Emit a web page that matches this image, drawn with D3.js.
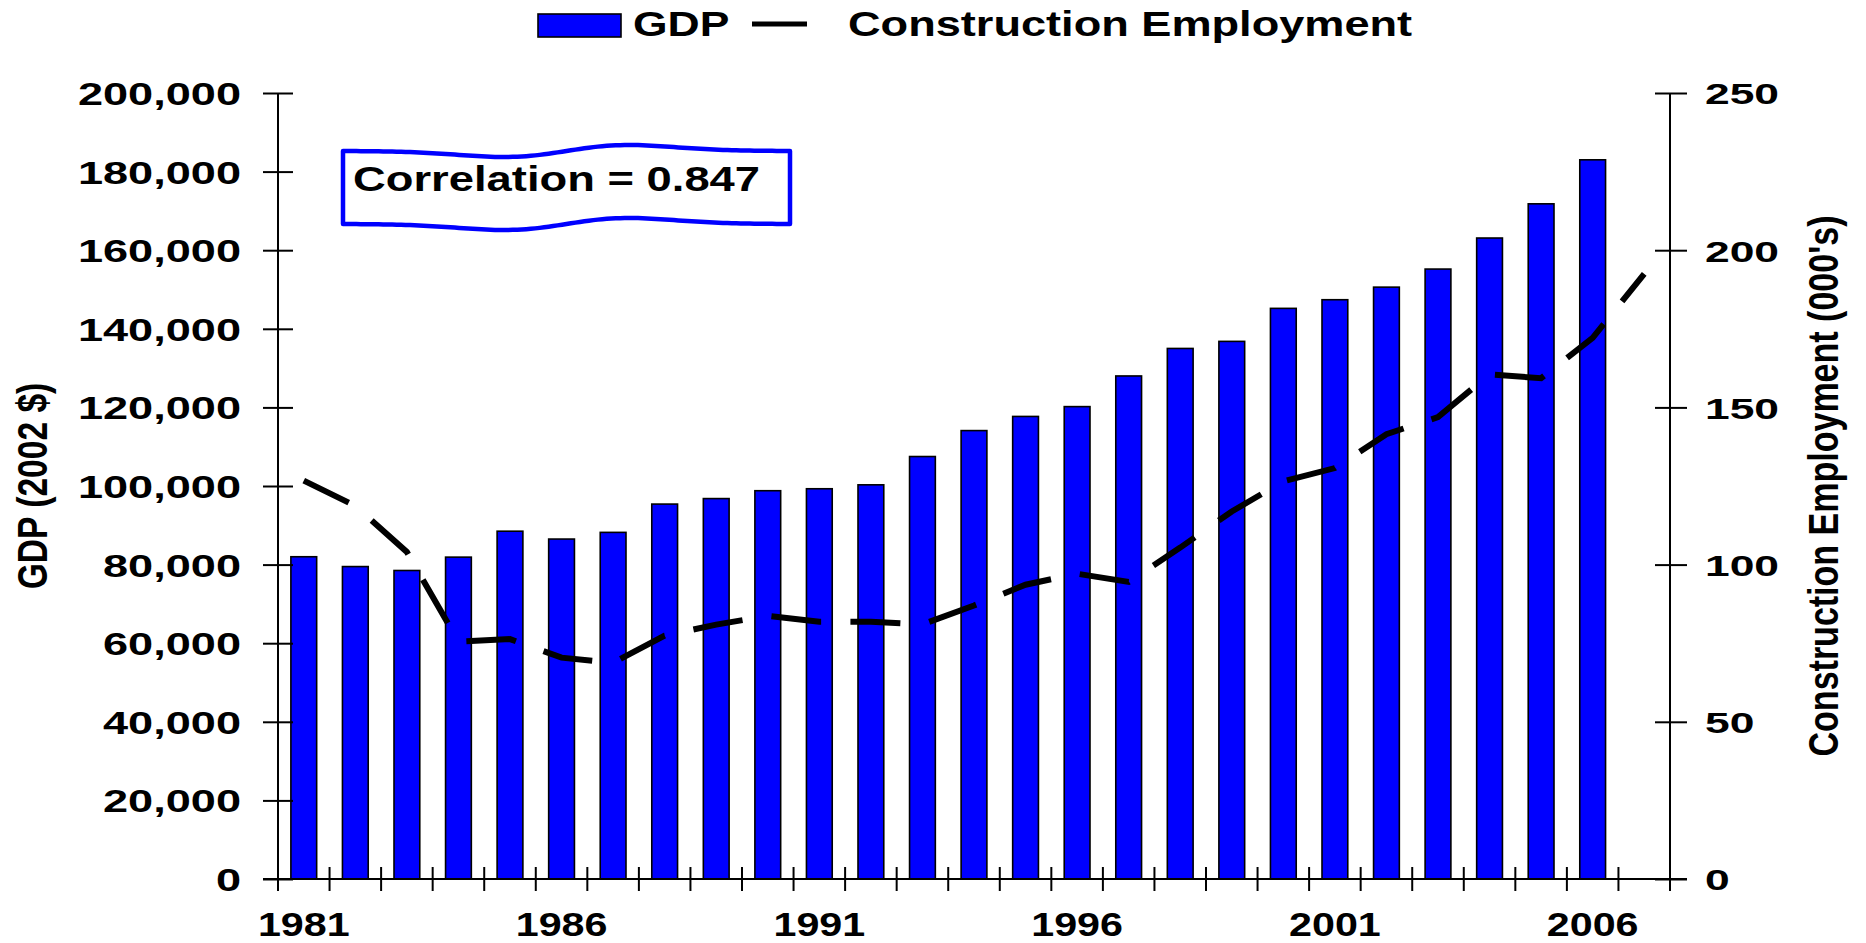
<!DOCTYPE html>
<html><head><meta charset="utf-8">
<script src="https://cdn.jsdelivr.net/npm/d3@7"></script>
<style>
body{margin:0;background:#fff}
svg{display:block;background:#fff}
text{font-family:'Liberation Sans',Arial,Helvetica,sans-serif;font-weight:bold;fill:#000}
</style>
</head><body>
<svg id="c" width="1866" height="943"></svg>
<script>
// ---------- data ----------
const years = [1981,1982,1983,1984,1985,1986,1987,1988,1989,1990,1991,1992,1993,1994,1995,1996,1997,1998,1999,2000,2001,2002,2003,2004,2005,2006,2007];
const gdpYears = [1981,1982,1983,1984,1985,1986,1987,1988,1989,1990,1991,1992,1993,1994,1995,1996,1997,1998,1999,2000,2001,2002,2003,2004,2005,2006];
const gdp = [82000,79500,78500,81900,88500,86500,88200,95400,96800,98800,99300,100300,107500,114100,117700,120200,128000,135000,136800,145200,147400,150600,155200,163100,171800,183000];
const employment = [126.7,118.7,104.0,75.5,76.3,70.4,68.8,77.4,80.9,83.7,81.8,81.8,81.0,87.0,93.6,97.1,94.5,105.4,116.9,126.5,130.7,141.5,146.9,160.5,159.3,172.1,192.5];
const gdpTicks = [0,20000,40000,60000,80000,100000,120000,140000,160000,180000,200000];
const empTicks = [0,50,100,150,200,250];
const labelYears = [1981,1986,1991,1996,2001,2006];
const legendLabels = ["GDP","Construction Employment"];
const leftTitle = "GDP (2002 $)";
const rightTitle = "Construction Employment (000's)";
const noteText = "Correlation = 0.847";

// ---------- layout ----------
const svg = d3.select('#c');
const plot = {left:278, right:1670, top:93, bottom:879};
const BLUE = '#0000FF';

const x = d3.scaleBand().domain(years).range([plot.left, plot.right]).paddingInner(0.5).paddingOuter(0.25);
const yL = d3.scaleLinear().domain([0,200000]).range([plot.bottom, plot.top]);
const yR = d3.scaleLinear().domain([0,250]).range([plot.bottom, plot.top]);
const step = x.step();

// bars
svg.append('g').selectAll('rect').data(gdp).join('rect')
  .attr('x', (d,i) => x(gdpYears[i]))
  .attr('y', d => yL(d))
  .attr('width', x.bandwidth())
  .attr('height', d => yL(0) - yL(d))
  .attr('fill', BLUE).attr('stroke', '#000').attr('stroke-width', 1.6);

// employment line
const empData = years.map((y,i) => ({year:y, v:employment[i]}));
svg.append('path').datum(empData)
  .attr('d', d3.line().x(d => x(d.year) + x.bandwidth()/2).y(d => yR(d.v)))
  .attr('fill','none').attr('stroke','#000').attr('stroke-width',6)
  .attr('stroke-dasharray','50,29.3').attr('stroke-linejoin','miter');

// left axis
const gL = svg.append('g').attr('transform', `translate(${plot.left},0)`)
  .call(d3.axisLeft(yL).tickValues(gdpTicks).tickSize(15).tickSizeOuter(0).tickFormat(d3.format(',')));
gL.select('.domain').remove();
gL.selectAll('.tick line').attr('x1', 15).attr('stroke','#000').attr('stroke-width',2);
gL.selectAll('.tick text').attr('x', null).attr('dy', '0.36em').attr('text-anchor','end')
  .attr('transform','translate(-37,0) scale(1.41,1)').style('font-size','32px');
svg.append('line').attr('x1',plot.left).attr('x2',plot.left).attr('y1',yL(200000)).attr('y2',plot.bottom+12)
  .attr('stroke','#000').attr('stroke-width',2);

// right axis
const gR = svg.append('g').attr('transform', `translate(${plot.right},0)`)
  .call(d3.axisRight(yR).tickValues(empTicks).tickSize(17).tickSizeOuter(0));
gR.select('.domain').remove();
gR.selectAll('.tick line').attr('x1', -15).attr('stroke','#000').attr('stroke-width',2);
gR.selectAll('.tick text').attr('x', null).attr('dy', '0.36em').attr('text-anchor','start')
  .attr('transform','translate(35,0) scale(1.48,1)').style('font-size','30px');
svg.append('line').attr('x1',plot.right).attr('x2',plot.right).attr('y1',yR(250)).attr('y2',plot.bottom+12)
  .attr('stroke','#000').attr('stroke-width',2);

// x axis line and boundary ticks
svg.append('line').attr('x1',plot.left-15).attr('x2',plot.right+17).attr('y1',plot.bottom).attr('y2',plot.bottom)
  .attr('stroke','#000').attr('stroke-width',2);
const bounds = years.map(y => x(y) - step*x.paddingInner()/2).concat([x(years[years.length-1]) + x.bandwidth() + step*x.paddingInner()/2]);
svg.append('g').selectAll('line').data(bounds).join('line')
  .attr('x1', d => d).attr('x2', d => d).attr('y1', plot.bottom-12).attr('y2', plot.bottom+12)
  .attr('stroke','#000').attr('stroke-width',2);

const gX = svg.append('g').attr('transform', `translate(0,${plot.bottom})`)
  .call(d3.axisBottom(x).tickValues(labelYears).tickSize(0).tickFormat(d3.format('d')));
gX.select('.domain').remove();
gX.selectAll('.tick text').attr('y', null).attr('dy', null)
  .attr('transform','translate(0,57) scale(1.25,1)').style('font-size','33px');

// axis titles
svg.append('text').attr('transform','translate(32,486) rotate(-90) scale(0.8,1)')
  .attr('text-anchor','middle').attr('dy','0.36em').style('font-size','42px').text(leftTitle);
svg.append('text').attr('transform','translate(1823,486) rotate(-90) scale(0.81,1)')
  .attr('text-anchor','middle').attr('dy','0.36em').style('font-size','42px').text(rightTitle);

// legend
const lg = svg.append('g');
lg.append('rect').attr('x',538).attr('y',14).attr('width',83).attr('height',23)
  .attr('fill',BLUE).attr('stroke','#000').attr('stroke-width',1.6);
lg.append('text').attr('transform','translate(633,36) scale(1.27,1)').style('font-size','35px').text(legendLabels[0]);
lg.append('line').attr('x1',752).attr('x2',807).attr('y1',24).attr('y2',24).attr('stroke','#000').attr('stroke-width',5);
lg.append('text').attr('transform','translate(848,36) scale(1.29,1)').style('font-size','35px').text(legendLabels[1]);

// correlation wave box
const box = {l:343, r:790, t:151, b:224, a:6, s:0.14};
const wave = t => { const z = (t-0.5)/box.s; return -box.a * z * Math.exp(0.5 - z*z/2); };
const ts = d3.range(0, 1.0001, 0.01);
const topPts = ts.map(t => [box.l + t*(box.r-box.l), box.t + wave(t)]);
const botPts = ts.map(t => [box.l + t*(box.r-box.l), box.b + wave(t)]).reverse();
svg.append('path').attr('d', d3.line()(topPts.concat(botPts)) + 'Z')
  .attr('fill','#fff').attr('stroke',BLUE).attr('stroke-width',4.5).attr('stroke-linejoin','round');
svg.append('text').attr('transform','translate(353,191) scale(1.26,1)').style('font-size','36px').text(noteText);
</script>
</body></html>
